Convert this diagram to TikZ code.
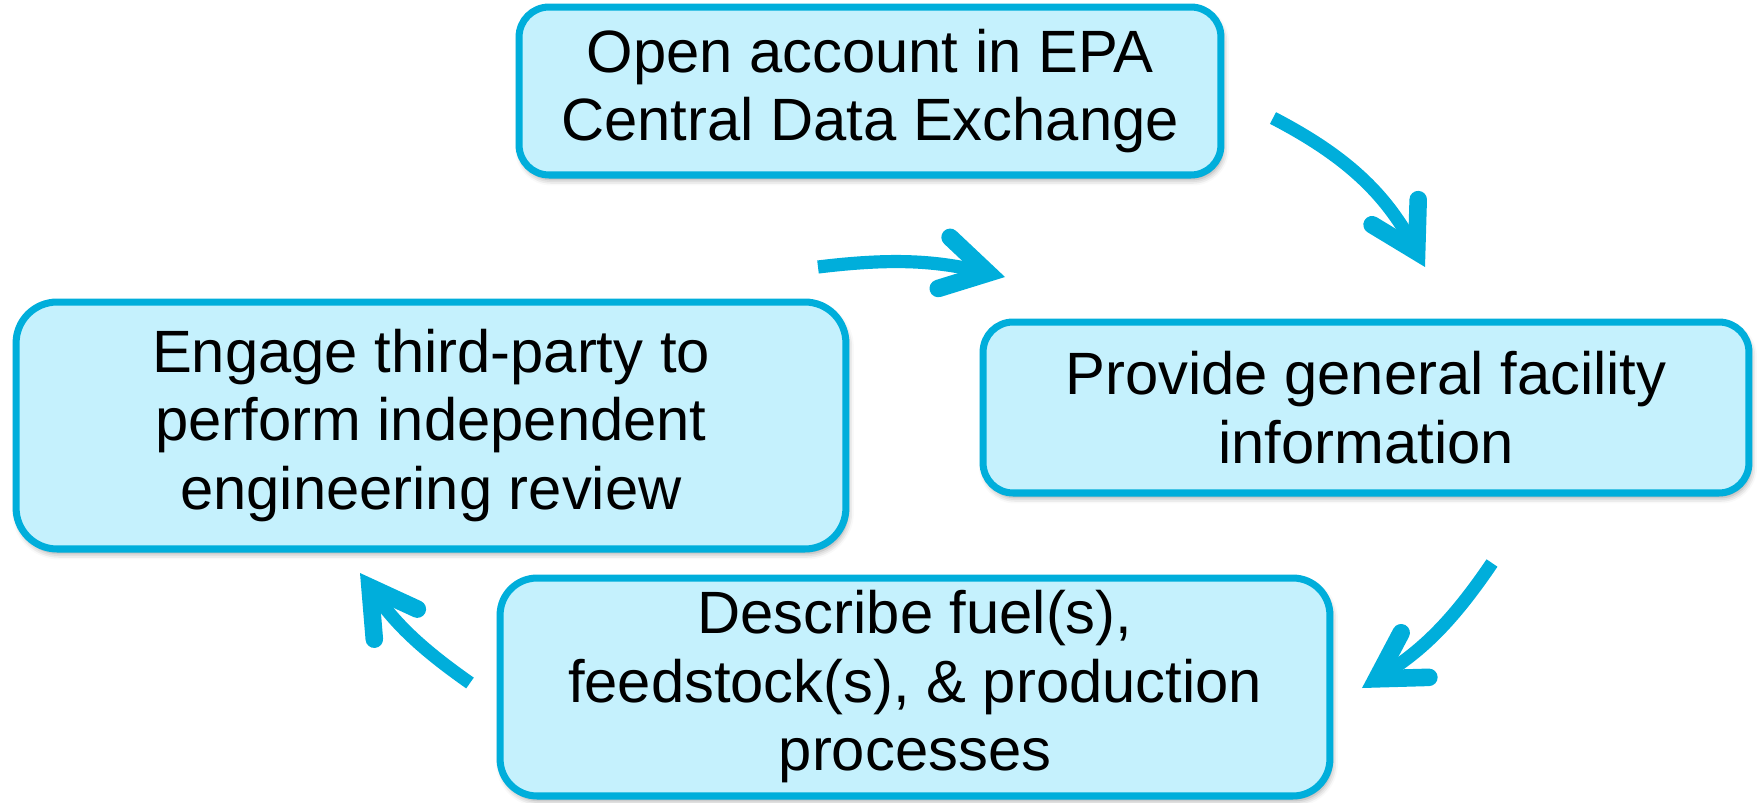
\documentclass[tikz,border=0pt]{standalone}
\usepackage{fontspec}
\setmainfont{Liberation Sans}
\usetikzlibrary{arrows.meta,shadows.blur}
\definecolor{stepfill}{RGB}{197,241,253}
\definecolor{stepline}{RGB}{0,174,219}
\begin{document}
\begin{tikzpicture}[x=0.02cm,y=-0.02cm,
  stepbox/.style={draw=stepline, fill=stepfill, line width=4pt, align=center,
    inner sep=0pt, font=\fontsize{34}{39}\selectfont,
    blur shadow={shadow xshift=0.04cm, shadow yshift=-0.09cm,
      shadow blur radius=0.12cm, shadow opacity=40}},
  cyclearrow/.style={draw=stepline, line width=7.5pt,
    -{Straight Barb[length=0.9cm, width=1.05cm, line width=10pt, line cap=round]}}]
  \useasboundingbox (0,0) rectangle (1762,802);

  % the four steps of the registration cycle
  \node[stepbox, minimum width=14.04cm, minimum height=3.36cm, rounded corners=0.6cm]
    (open) at (870,91) {Open account in EPA\\Central Data Exchange};
  \node[stepbox, minimum width=15.32cm, minimum height=3.42cm, rounded corners=0.6cm]
    (facility) at (1366,407.5) {Provide general facility\\information};
  \node[stepbox, minimum width=16.6cm, minimum height=4.36cm, rounded corners=0.74cm]
    (fuels) at (915,687) {Describe fuel(s),\\feedstock(s), \& production\\processes};
  \node[stepbox, minimum width=16.6cm, minimum height=4.94cm, rounded corners=0.82cm]
    (review) at (431,425.5) {Engage third-party to\\perform independent\\engineering review};

  % arrow ends between the boxes
  \coordinate (a1s) at (1273,118);  \coordinate (a1e) at (1425,267);
  \coordinate (a2s) at (1492,563);  \coordinate (a2e) at (1362,688);
  \coordinate (a3s) at (470,683);   \coordinate (a3e) at (360,573);
  \coordinate (a4s) at (818,267);   \coordinate (a4e) at (1005,277);

  \draw[cyclearrow] (a1s) to[bend left=17] (a1e);
  \draw[cyclearrow] (a2s) to[bend left=12] (a2e);
  \draw[cyclearrow] (a3s) to[bend left=10] (a3e);
  \draw[cyclearrow] (a4s) to[bend left=10] (a4e);
\end{tikzpicture}
\end{document}
